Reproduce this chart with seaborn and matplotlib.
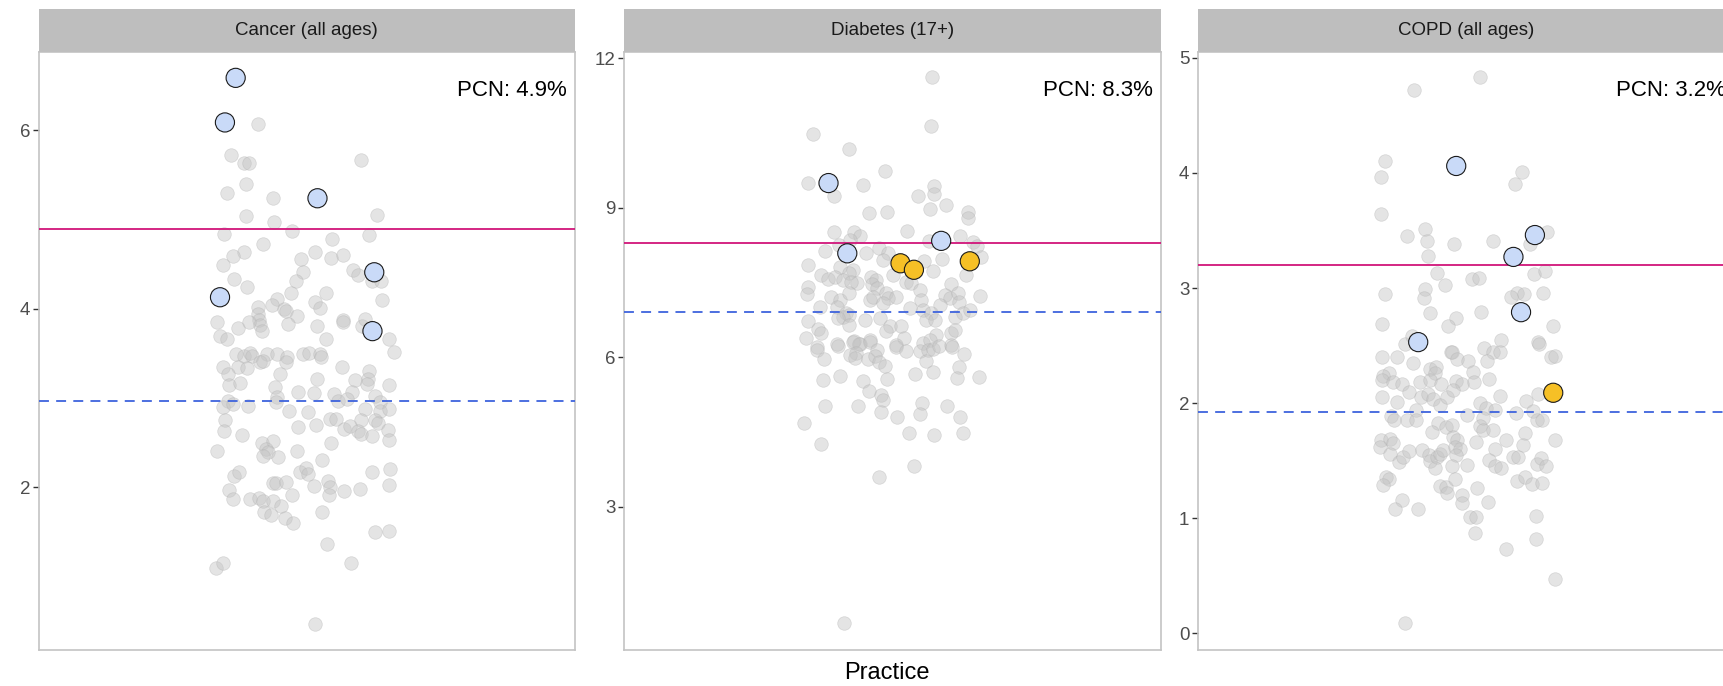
import numpy as np
import pandas as pd
import matplotlib
matplotlib.use("Agg")
import matplotlib.pyplot as plt
import seaborn as sns

# ---- data ----
panel_titles = ["Cancer (all ages)", "Diabetes (17+)", "COPD (all ages)"]
pcn_values = [4.9, 8.3, 3.2]              # PCN prevalence (solid line)
ref_values = [2.97, 6.91, 1.92]           # reference prevalence (dashed line)
y_limits = [(0.18, 6.88), (0.14, 12.13), (-0.14, 5.05)]
y_ticks = [[2, 4, 6], [3, 6, 9, 12], [0, 1, 2, 3, 4, 5]]

# Cancer: all practices (jitter offset, prevalence %)
cancer_jit = [-0.110, -0.170, -0.140, -0.129, 0.121, -0.136, -0.178, -0.075, -0.136, 0.158,
              -0.073, -0.032, -0.185, 0.139, 0.057, -0.097, -0.141, -0.165, -0.188, 0.018,
              -0.013, 0.055, 0.082, -0.009, 0.104, 0.114, 0.145, 0.166, -0.162, -0.133,
              -0.025, -0.036, 0.042, 0.169, -0.066, -0.077, -0.110, -0.108, -0.107, -0.105,
              -0.100, -0.051, -0.047, 0.018, 0.029, -0.022, -0.200, -0.154, -0.130, -0.042,
              0.024, 0.080, 0.080, 0.123, 0.130, -0.194, -0.178, 0.042, 0.184, 0.195,
              -0.159, -0.141, -0.128, -0.123, -0.089, -0.104, -0.098, -0.066, -0.045, -0.047,
              -0.009, 0.004, 0.029, 0.031, -0.188, -0.153, -0.134, 0.079, -0.176, -0.173,
              -0.150, -0.060, 0.024, -0.072, -0.019, 0.016, 0.109, 0.140, 0.136, 0.135,
              0.102, 0.185, 0.060, -0.067, -0.068, -0.176, -0.187, -0.165, -0.131, 0.071,
              0.089, 0.153, 0.163, 0.163, 0.130, 0.185, -0.040, 0.002, 0.051, 0.066,
              0.121, 0.153, 0.159, -0.182, -0.185, -0.145, -0.019, 0.021, 0.083, 0.096,
              0.115, 0.121, 0.146, 0.182, 0.183, 0.055, -0.200, -0.100, -0.075, -0.092,
              -0.086, -0.097, -0.064, -0.022, 0.035, -0.162, -0.151, -0.014, -0.001, 0.003,
              -0.075, -0.069, -0.047, 0.016, 0.048, 0.051, 0.049, 0.083, 0.119, 0.145,
              0.186, 0.184, -0.174, -0.164, -0.126, -0.107, -0.098, -0.075, -0.034, -0.057,
              -0.095, -0.080, -0.049, -0.030, 0.033, 0.153, 0.184, 0.045, -0.204, -0.188,
              0.099, 0.019]
cancer_val = [6.07, 5.72, 5.64, 5.63, 5.67, 5.40, 5.30, 5.24, 5.04, 5.05,
              4.97, 4.87, 4.84, 4.83, 4.78, 4.73, 4.64, 4.59, 4.49, 4.64,
              4.56, 4.57, 4.60, 4.41, 4.44, 4.38, 4.31, 4.31, 4.33, 4.24,
              4.31, 4.18, 4.18, 4.10, 4.11, 4.04, 4.02, 3.94, 3.88, 3.82,
              3.75, 4.00, 3.98, 4.08, 4.01, 3.92, 3.85, 3.79, 3.85, 3.83,
              3.81, 3.88, 3.85, 3.81, 3.89, 3.70, 3.66, 3.66, 3.66, 3.52,
              3.49, 3.47, 3.50, 3.47, 3.49, 3.40, 3.42, 3.49, 3.46, 3.40,
              3.49, 3.51, 3.49, 3.46, 3.35, 3.35, 3.34, 3.35, 3.27, 3.15,
              3.17, 3.27, 3.21, 3.12, 3.07, 3.06, 3.20, 3.30, 3.21, 3.16,
              3.07, 3.15, 3.04, 3.01, 2.96, 2.97, 2.90, 2.93, 2.91, 2.97,
              2.99, 3.02, 2.96, 2.86, 2.88, 2.88, 2.86, 2.84, 2.76, 2.77,
              2.75, 2.75, 2.72, 2.75, 2.63, 2.59, 2.67, 2.70, 2.65, 2.69,
              2.63, 2.60, 2.57, 2.64, 2.53, 2.50, 2.41, 2.50, 2.52, 2.43,
              2.40, 2.35, 2.34, 2.41, 2.31, 2.12, 2.17, 2.17, 2.22, 2.15,
              2.05, 2.05, 2.06, 2.01, 2.07, 2.00, 1.91, 1.96, 1.98, 2.17,
              2.20, 2.03, 1.97, 1.87, 1.87, 1.88, 1.85, 1.84, 1.91, 1.79,
              1.72, 1.69, 1.66, 1.60, 1.72, 1.50, 1.51, 1.36, 1.09, 1.15,
              1.15, 0.47]
cancer_hi_jit = [-0.159, -0.183, 0.024, 0.151, -0.194, 0.147]
cancer_hi_val = [6.59, 6.09, 5.24, 4.41, 4.13, 3.75]
cancer_hi_grp = ["member", "member", "member", "member", "member", "member"]

# Diabetes
diab_jit = [0.089, 0.086, -0.178, -0.098, -0.016, -0.189, -0.066, -0.130, 0.092, 0.094,
            0.058, 0.119, 0.084, -0.052, -0.012, 0.169, 0.168, -0.130, -0.085, -0.073,
            0.033, 0.151, 0.082, 0.180, 0.188, 0.197, -0.150, -0.120, -0.095, -0.060,
            -0.030, -0.010, -0.021, 0.111, -0.188, 0.071, 0.091, 0.165, -0.118, -0.088,
            -0.097, -0.159, -0.144, -0.129, -0.190, -0.192, -0.110, -0.080, -0.092, -0.048,
            -0.036, -0.046, -0.034, 0.001, 0.031, 0.042, 0.061, 0.132, 0.117, 0.128,
            0.147, 0.149, 0.196, -0.137, -0.118, -0.125, -0.097, -0.051, -0.043, -0.014,
            -0.010, 0.009, -0.021, 0.063, -0.161, 0.106, -0.104, -0.110, -0.097, -0.122,
            -0.062, -0.028, 0.039, 0.068, 0.087, 0.076, 0.095, 0.141, 0.158, 0.173,
            -0.189, -0.097, -0.006, 0.020, -0.166, -0.159, -0.015, 0.025, 0.132, 0.139,
            0.098, -0.194, -0.123, -0.086, -0.073, -0.051, 0.009, 0.069, 0.083, 0.132,
            -0.168, -0.168, -0.154, -0.122, -0.088, -0.075, -0.081, -0.095, -0.084, -0.051,
            -0.034, -0.055, -0.040, -0.029, -0.017, 0.009, 0.031, 0.062, 0.080, 0.091,
            0.104, 0.076, 0.133, 0.161, 0.148, 0.145, -0.156, -0.118, -0.066, -0.053,
            -0.013, 0.051, 0.091, 0.193, -0.151, -0.077, -0.026, -0.022, -0.025, 0.011,
            0.067, 0.061, 0.121, 0.152, -0.198, 0.036, 0.092, 0.157, -0.160, 0.048,
            -0.029, -0.109]
diab_val = [11.62, 10.64, 10.48, 10.19, 9.75, 9.50, 9.46, 9.24, 9.45, 9.28,
            9.25, 9.06, 8.98, 8.89, 8.92, 8.92, 8.80, 8.51, 8.51, 8.43,
            8.54, 8.43, 8.33, 8.31, 8.23, 8.01, 8.14, 8.25, 8.36, 8.09,
            8.19, 8.09, 7.96, 7.98, 7.86, 7.93, 7.74, 7.66, 7.82, 7.76,
            7.69, 7.66, 7.58, 7.61, 7.42, 7.28, 7.56, 7.49, 7.52, 7.61,
            7.56, 7.47, 7.39, 7.66, 7.52, 7.49, 7.36, 7.47, 7.26, 7.19,
            7.29, 7.12, 7.24, 7.22, 7.16, 7.02, 7.29, 7.16, 7.22, 7.29,
            7.19, 7.22, 7.09, 7.16, 7.02, 7.06, 6.89, 6.82, 6.86, 6.79,
            6.75, 6.79, 6.99, 6.96, 6.89, 6.75, 6.75, 6.82, 6.89, 6.96,
            6.73, 6.65, 6.63, 6.63, 6.57, 6.49, 6.54, 6.40, 6.49, 6.55,
            6.45, 6.39, 6.28, 6.34, 6.28, 6.35, 6.25, 6.29, 6.35, 6.25,
            6.22, 6.15, 5.96, 6.24, 6.32, 6.27, 6.08, 6.05, 5.98, 6.32,
            6.15, 5.96, 6.03, 5.90, 5.83, 6.21, 6.14, 6.12, 6.15, 6.17,
            6.23, 5.92, 6.21, 6.06, 5.80, 5.58, 5.55, 5.63, 5.52, 5.33,
            5.56, 5.67, 5.70, 5.61, 5.03, 5.02, 5.25, 5.15, 4.91, 4.81,
            5.09, 4.87, 5.03, 4.81, 4.69, 4.49, 4.45, 4.49, 4.27, 3.83,
            3.60, 0.67]
diab_hi_jit = [-0.143, -0.101, 0.109, 0.018, 0.048, 0.173]
diab_hi_val = [9.50, 8.09, 8.34, 7.89, 7.76, 7.93]
diab_hi_grp = ["member", "member", "member", "flagged", "flagged", "flagged"]

# COPD
copd_jit = [0.031, -0.117, -0.182, -0.190, 0.126, 0.110, -0.191, -0.091, -0.132, -0.087,
            -0.028, 0.060, 0.181, 0.144, -0.086, -0.065, -0.048, 0.013, 0.029, 0.153,
            0.176, -0.181, -0.091, -0.095, 0.113, 0.129, 0.101, 0.172, -0.080, -0.022,
            -0.041, 0.034, -0.188, 0.194, 0.079, -0.137, -0.122, 0.160, 0.163, 0.040,
            0.060, 0.075, -0.033, -0.188, -0.155, -0.118, -0.032, -0.020, 0.004, 0.046,
            0.189, 0.200, -0.081, -0.068, -0.070, 0.016, 0.051, -0.172, -0.185, -0.188,
            -0.163, -0.144, -0.128, -0.103, -0.081, -0.055, -0.023, -0.010, 0.017, -0.187,
            -0.154, -0.100, -0.085, -0.074, -0.059, -0.042, -0.029, 0.076, 0.031, 0.045,
            0.064, 0.135, 0.161, -0.112, -0.132, -0.112, -0.167, -0.161, 0.003, 0.039,
            0.112, 0.150, 0.159, 0.169, -0.062, -0.044, -0.031, -0.077, 0.031, 0.037,
            0.060, 0.132, -0.191, -0.171, -0.193, -0.163, -0.171, -0.149, -0.141, -0.127,
            -0.098, -0.083, -0.080, -0.066, -0.070, -0.059, -0.051, -0.029, -0.021, -0.025,
            -0.014, -0.023, -0.032, 0.003, 0.022, 0.064, 0.051, 0.064, 0.079, 0.089,
            0.127, 0.104, 0.116, 0.159, 0.168, 0.178, 0.198, -0.180, -0.173, -0.185,
            -0.059, -0.045, -0.042, -0.025, 0.025, 0.114, 0.131, 0.148, 0.170, -0.144,
            -0.160, -0.107, -0.009, -0.010, 0.049, 0.008, 0.022, 0.157, 0.020, 0.157,
            0.089, 0.198, -0.136]
copd_val = [4.83, 4.72, 4.10, 3.96, 4.01, 3.90, 3.64, 3.51, 3.45, 3.41,
            3.38, 3.41, 3.49, 3.38, 3.28, 3.13, 3.03, 3.08, 3.09, 3.12,
            3.15, 2.95, 2.99, 2.91, 2.96, 2.95, 2.92, 2.96, 2.78, 2.74,
            2.67, 2.79, 2.69, 2.67, 2.55, 2.51, 2.58, 2.53, 2.51, 2.48,
            2.44, 2.44, 2.44, 2.40, 2.40, 2.35, 2.44, 2.38, 2.37, 2.37,
            2.40, 2.41, 2.30, 2.31, 2.26, 2.27, 2.21, 2.26, 2.24, 2.20,
            2.18, 2.17, 2.10, 2.18, 2.20, 2.17, 2.19, 2.17, 2.18, 2.05,
            2.01, 2.05, 2.08, 2.04, 1.98, 2.05, 2.11, 2.06, 2.00, 1.96,
            1.94, 2.02, 2.08, 1.94, 1.85, 1.85, 1.89, 1.85, 1.90, 1.87,
            1.91, 1.93, 1.85, 1.85, 1.83, 1.79, 1.81, 1.75, 1.80, 1.77,
            1.77, 1.74, 1.68, 1.69, 1.62, 1.65, 1.56, 1.49, 1.53, 1.58,
            1.59, 1.55, 1.50, 1.53, 1.44, 1.56, 1.59, 1.71, 1.68, 1.62,
            1.60, 1.55, 1.45, 1.46, 1.66, 1.60, 1.51, 1.45, 1.44, 1.68,
            1.64, 1.53, 1.53, 1.47, 1.52, 1.45, 1.68, 1.36, 1.34, 1.29,
            1.28, 1.27, 1.22, 1.34, 1.26, 1.32, 1.36, 1.30, 1.31, 1.16,
            1.08, 1.08, 1.20, 1.13, 1.14, 1.01, 1.01, 1.02, 0.87, 0.82,
            0.73, 0.47, 0.09]
copd_hi_jit = [-0.022, 0.154, 0.106, 0.123, -0.107, 0.195]
copd_hi_val = [4.06, 3.46, 3.27, 2.79, 2.53, 2.09]
copd_hi_grp = ["member", "member", "member", "member", "member", "flagged"]

# ---- build tables ----
all_pts = [(cancer_jit, cancer_val), (diab_jit, diab_val), (copd_jit, copd_val)]
hi_pts = [(cancer_hi_jit, cancer_hi_val, cancer_hi_grp),
          (diab_hi_jit, diab_hi_val, diab_hi_grp),
          (copd_hi_jit, copd_hi_val, copd_hi_grp)]

sns.set_theme(style="white")
plt.rcParams["font.family"] = ["Liberation Sans", "DejaVu Sans"]

W, H = 1723, 686
fig = plt.figure(figsize=(W / 100, H / 100), dpi=100)

panel_left = [38.5, 624.2, 1197.8]
panel_w = 536.5
panel_top, panel_bottom = 52.0, 649.5
strip_top = 9.0
hi_palette = {"member": "#C9DAF8", "flagged": "#F6C026"}

for i in range(3):
    x0 = panel_left[i] / W
    ax = fig.add_axes([x0, (H - panel_bottom) / H, panel_w / W, (panel_bottom - panel_top) / H])
    st = fig.add_axes([x0, (H - panel_top) / H, panel_w / W, (panel_top - strip_top) / H])

    df = pd.DataFrame({"x": 1 + np.array(all_pts[i][0]), "y": all_pts[i][1]})
    hi = pd.DataFrame({"x": 1 + np.array(hi_pts[i][0]), "y": hi_pts[i][1], "grp": hi_pts[i][2]})

    # all practices, faint grey
    sns.scatterplot(data=df, x="x", y="y", ax=ax, s=95, color="#C4C4C4", alpha=0.45,
                    edgecolor="#B0B0B0", linewidth=0.5, zorder=2)
    ax.axhline(pcn_values[i], color="#D1157A", lw=1.3, zorder=3)
    ax.axhline(ref_values[i], color="#3E63DD", lw=1.3, dashes=(5.5, 4), zorder=3)
    # PCN practices on top
    sns.scatterplot(data=hi, x="x", y="y", hue="grp", palette=hi_palette, ax=ax, s=190,
                    edgecolor="#1A1A1A", linewidth=0.8, legend=False, zorder=4)

    ax.text(0.985, 0.935, f"PCN: {pcn_values[i]}%", transform=ax.transAxes,
            ha="right", va="center", fontsize=16, color="black")

    ax.set_xlim(0.4, 1.6)
    ax.set_ylim(*y_limits[i])
    ax.set_yticks(y_ticks[i])
    ax.set_xticks([])
    ax.set_xlabel("")
    ax.set_ylabel("")
    ax.tick_params(axis="y", left=True, length=4, width=1, color="#333333",
                   labelsize=13.5, labelcolor="#4D4D4D", pad=2)
    for sp in ax.spines.values():
        sp.set_color("#C4C4C4")
        sp.set_linewidth(1.2)

    st.set_facecolor("#BEBEBE")
    st.set_xticks([])
    st.set_yticks([])
    for sp in st.spines.values():
        sp.set_visible(False)
    st.text(0.5, 0.5, panel_titles[i], ha="center", va="center", fontsize=13.5,
            color="#1A1A1A", transform=st.transAxes)

fig.text(887 / W, 1 - 673 / H, "Practice", ha="center", va="center", fontsize=17, color="black")

fig.savefig("out.png", dpi=100, facecolor="white")
